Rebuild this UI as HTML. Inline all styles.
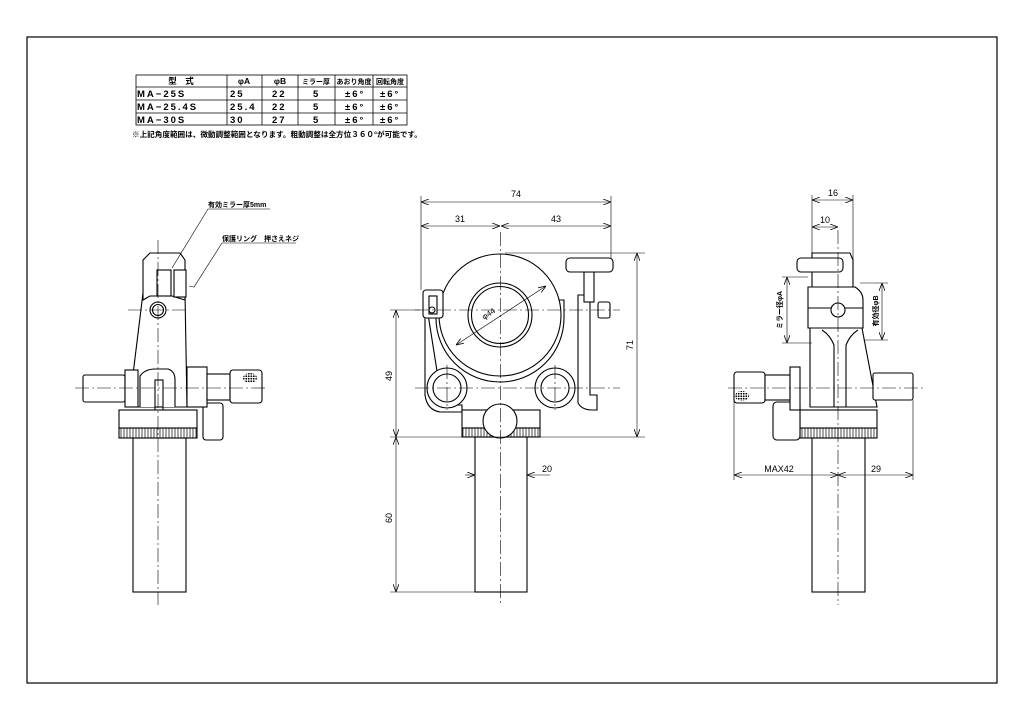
<!DOCTYPE html>
<html><head><meta charset="utf-8"><style>
html,body{margin:0;padding:0;background:#fff;}
svg{display:block;}
text{font-family:"Liberation Sans","Noto Sans CJK JP",sans-serif;fill:#000;}
</style></head><body>
<svg width="1024" height="724" viewBox="0 0 1024 724" xmlns="http://www.w3.org/2000/svg">
<defs>
<marker id="a" markerWidth="8" markerHeight="6" refX="8" refY="3" orient="auto-start-reverse" markerUnits="userSpaceOnUse"><path d="M0,0 L8,3 L0,6" fill="none" stroke="#000" stroke-width="0.8"/></marker>
<pattern id="k" width="3" height="10" patternUnits="userSpaceOnUse"><rect width="3" height="10" fill="#fff"/><line x1="1" y1="0" x2="1" y2="10" stroke="#000" stroke-width="0.7"/></pattern>
<pattern id="d" width="2.5" height="2.5" patternUnits="userSpaceOnUse"><rect width="2.5" height="2.5" fill="#fff"/><circle cx="1.25" cy="1.25" r="0.9" fill="#000"/></pattern>
</defs>
<rect x="27" y="37" width="970" height="646" fill="none" stroke="#000" stroke-width="1.2"/>

<!-- table -->
<g stroke="#000" stroke-width="0.8" fill="none">
<rect x="136" y="75" width="271" height="50"/>
<line x1="136" y1="87" x2="407" y2="87"/><line x1="136" y1="100" x2="407" y2="100"/><line x1="136" y1="113" x2="407" y2="113"/>
<line x1="227" y1="75" x2="227" y2="125"/><line x1="262" y1="75" x2="262" y2="125"/><line x1="298" y1="75" x2="298" y2="125"/><line x1="335" y1="75" x2="335" y2="125"/><line x1="373" y1="75" x2="373" y2="125"/>
</g>
<g font-size="8.5" font-weight="bold">
<text x="181" y="84" text-anchor="middle">型　式</text>
<text x="244" y="84" text-anchor="middle">φA</text>
<text x="280" y="84" text-anchor="middle">φB</text>
<text x="316" y="84" text-anchor="middle" font-size="7">ミラー厚</text>
<text x="354" y="84" text-anchor="middle" font-size="7">あおり角度</text>
<text x="390" y="84" text-anchor="middle" font-size="7">回転角度</text>
</g>
<g font-size="9.5" letter-spacing="2" font-weight="bold">
<text x="137" y="97">MA−25S</text><text x="230" y="97">25</text><text x="272" y="97">22</text><text x="313" y="97">5</text><text x="345" y="97">±6°</text><text x="380" y="97">±6°</text>
<text x="137" y="110">MA−25.4S</text><text x="230" y="110">25.4</text><text x="272" y="110">22</text><text x="313" y="110">5</text><text x="345" y="110">±6°</text><text x="380" y="110">±6°</text>
<text x="137" y="123">MA−30S</text><text x="230" y="123">30</text><text x="272" y="123">27</text><text x="313" y="123">5</text><text x="345" y="123">±6°</text><text x="380" y="123">±6°</text>
</g>
<text x="132" y="137" font-size="7.6" font-weight="bold">※上記角度範囲は、微動調整範囲となります。粗動調整は全方位３６０°が可能です。</text>

<g stroke="#000" stroke-width="1.1" fill="#fff">
<!-- LEFT VIEW -->
<rect x="133" y="438" width="53" height="154"/>
<rect x="155" y="380" width="8" height="48"/>
<rect x="119" y="428" width="78" height="10" fill="url(#k)"/>
<rect x="119" y="410" width="78" height="18"/>
<rect x="203" y="403" width="20" height="37" rx="3"/>
<path d="M143,293 L185,293 L187,407 L129,407 Z"/>
<path d="M143,260 L150,253 L180,253 L185,260 L185,300 L172,296 L150,296 L143,300 Z"/>
<rect x="157" y="270" width="14" height="26"/>
<rect x="174" y="270" width="12" height="27"/>
<circle cx="158" cy="310" r="8"/><circle cx="158" cy="310" r="5.5"/>
<rect x="83" y="375" width="42" height="27" rx="2"/>
<rect x="125" y="370" width="13" height="37"/>
<path d="M140,407 L140,376 Q145,369 155,369 L168,369 Q175,371 175,380 L175,407"/>
<rect x="155" y="380" width="8" height="27"/>
<rect x="187" y="367" width="20" height="40"/>
<rect x="207" y="374" width="23" height="26"/>
<rect x="230" y="370" width="32" height="33" rx="3"/>
<!-- MIDDLE VIEW -->
<rect x="475" y="437" width="52" height="155"/>
<path d="M425,295 L425,395 Q427,410 440,412 L462,412 L462,405 L448,405 Q440,400 440,390 Z"/>
<path d="M436,300 L436,318 A64,64 0 0 0 564,318 L564,300 Z"/>
<circle cx="500" cy="315" r="61"/>
<circle cx="500" cy="315" r="32"/><circle cx="500" cy="315" r="28.5"/>
<rect x="423" y="290" width="20" height="28" rx="3"/>
<rect x="429" y="296" width="8" height="18"/>
<circle cx="432" cy="310" r="3"/>
<path d="M578,295 L578,403 Q582,410 592,410 L597,410 L597,395 L590,395 L590,295 Z"/>
<rect x="584" y="272" width="10" height="30"/>
<rect x="566" y="258" width="47" height="14" rx="4"/>
<rect x="598" y="302" width="12" height="16" rx="2"/>
<rect x="462" y="410" width="78" height="18"/>
<rect x="462" y="428" width="78" height="9" fill="url(#k)"/>
<circle cx="447" cy="388" r="20"/><circle cx="447" cy="388" r="14"/>
<circle cx="555" cy="388" r="20"/><circle cx="555" cy="388" r="14"/>
<circle cx="500" cy="421" r="17"/>
<!-- RIGHT VIEW -->
<rect x="812" y="438" width="53" height="154"/>
<rect x="800" y="428" width="77" height="10" fill="url(#k)"/>
<rect x="800" y="410" width="77" height="18"/>
<rect x="773" y="402" width="27" height="38" rx="4"/>
<path d="M810,328 L862,328 L877,407 L810,407 Z"/>
<path d="M822,330 Q830,335 834,345 L834,407 L846,407 L846,345 Q850,335 858,330"/>
<rect x="873" y="373" width="40" height="27" rx="2"/>
<rect x="734" y="372" width="31" height="31" rx="3"/>
<rect x="765" y="375" width="25" height="25"/>
<rect x="790" y="367" width="10" height="43"/>
<path d="M812,287 L812,253 L850,253 L853,260 L853,287"/>
<path d="M808,287 L855,287 Q863,292 863,300 L863,328 L808,328 Z"/>
<line x1="808" y1="308" x2="863" y2="308"/>
<circle cx="838" cy="310" r="7"/>
<rect x="797" y="258" width="46" height="14" rx="4"/>
</g>
<ellipse cx="250" cy="378" rx="7" ry="5" fill="url(#d)"/>
<ellipse cx="742" cy="396" rx="7" ry="5" fill="url(#d)"/>

<!-- centerlines -->
<g stroke="#000" stroke-width="0.6" stroke-dasharray="14,3,2,3" fill="none">
<line x1="158" y1="240" x2="158" y2="605"/><line x1="75" y1="388" x2="265" y2="388"/><line x1="128" y1="310" x2="185" y2="310"/>
<line x1="500.5" y1="232" x2="500.5" y2="605"/><line x1="415" y1="310" x2="620" y2="310"/><line x1="415" y1="388" x2="620" y2="388"/>
<line x1="447" y1="365" x2="447" y2="410"/><line x1="555" y1="365" x2="555" y2="410"/>
<line x1="838" y1="230" x2="838" y2="605"/><line x1="728" y1="388" x2="925" y2="388"/>
</g>

<!-- dimensions -->
<g stroke="#000" stroke-width="0.6" fill="none">
<line x1="421" y1="196" x2="421" y2="290"/><line x1="611" y1="196" x2="611" y2="258"/>
<line x1="421" y1="202" x2="611" y2="202" marker-start="url(#a)" marker-end="url(#a)"/>
<line x1="421" y1="226" x2="500" y2="226" marker-start="url(#a)" marker-end="url(#a)"/>
<line x1="501" y1="226" x2="611" y2="226" marker-start="url(#a)" marker-end="url(#a)"/>
<line x1="505" y1="253" x2="645" y2="253"/><line x1="390" y1="437" x2="645" y2="437"/>
<line x1="637" y1="253" x2="637" y2="437" marker-start="url(#a)" marker-end="url(#a)"/>
<line x1="390" y1="310" x2="420" y2="310"/>
<line x1="396" y1="310" x2="396" y2="437" marker-start="url(#a)" marker-end="url(#a)"/>
<line x1="396" y1="437" x2="396" y2="592" marker-start="url(#a)" marker-end="url(#a)"/>
<line x1="390" y1="592" x2="475" y2="592"/>
<line x1="465" y1="475" x2="475" y2="475" marker-end="url(#a)"/>
<line x1="527" y1="475" x2="550" y2="475" marker-start="url(#a)"/>
<line x1="456" y1="345" x2="546" y2="286" marker-start="url(#a)" marker-end="url(#a)"/>
<line x1="812" y1="195" x2="812" y2="255"/><line x1="853" y1="195" x2="853" y2="287"/>
<line x1="812" y1="200" x2="853" y2="200" marker-start="url(#a)" marker-end="url(#a)"/>
<line x1="812" y1="227" x2="838" y2="227" marker-start="url(#a)" marker-end="url(#a)"/>
<line x1="782" y1="277" x2="808" y2="277"/><line x1="782" y1="343" x2="812" y2="343"/>
<line x1="787" y1="277" x2="787" y2="343" marker-start="url(#a)" marker-end="url(#a)"/>
<line x1="860" y1="283" x2="888" y2="283"/><line x1="864" y1="340" x2="888" y2="340"/>
<line x1="882" y1="283" x2="882" y2="340" marker-start="url(#a)" marker-end="url(#a)"/>
<line x1="734" y1="400" x2="734" y2="480"/><line x1="913" y1="400" x2="913" y2="480"/>
<line x1="734" y1="475" x2="838" y2="475" marker-start="url(#a)" marker-end="url(#a)"/>
<line x1="838" y1="475" x2="913" y2="475" marker-start="url(#a)" marker-end="url(#a)"/>
<polyline points="270,209 208,209 172,268"/>
<polyline points="296,243 222,243 194,287 189,286"/>
</g>
<g font-size="9">
<text x="516" y="197" text-anchor="middle">74</text>
<text x="460" y="222" text-anchor="middle">31</text>
<text x="556" y="222" text-anchor="middle">43</text>
<text x="542" y="472">20</text>
<text transform="translate(633,345) rotate(-90)" text-anchor="middle">71</text>
<text transform="translate(392,376) rotate(-90)" text-anchor="middle">49</text>
<text transform="translate(392,518) rotate(-90)" text-anchor="middle">60</text>
<text transform="translate(490,316) rotate(-33)" text-anchor="middle" font-size="8">φ44</text>
<text x="833" y="196" text-anchor="middle">16</text>
<text x="825" y="223" text-anchor="middle">10</text>
<text x="779" y="472" text-anchor="middle">MAX42</text>
<text x="876" y="472" text-anchor="middle">29</text>
<text transform="translate(782,310) rotate(-90)" text-anchor="middle" font-size="7" font-weight="bold">ミラー径φA</text>
<text transform="translate(878,311) rotate(-90)" text-anchor="middle" font-size="7" font-weight="bold">有効径φB</text>
<text x="208" y="207" font-size="7" font-weight="bold">有効ミラー厚5mm</text>
<text x="222" y="241" font-size="7" font-weight="bold">保護リング　押さえネジ</text>
</g>
</svg>
</body></html>
